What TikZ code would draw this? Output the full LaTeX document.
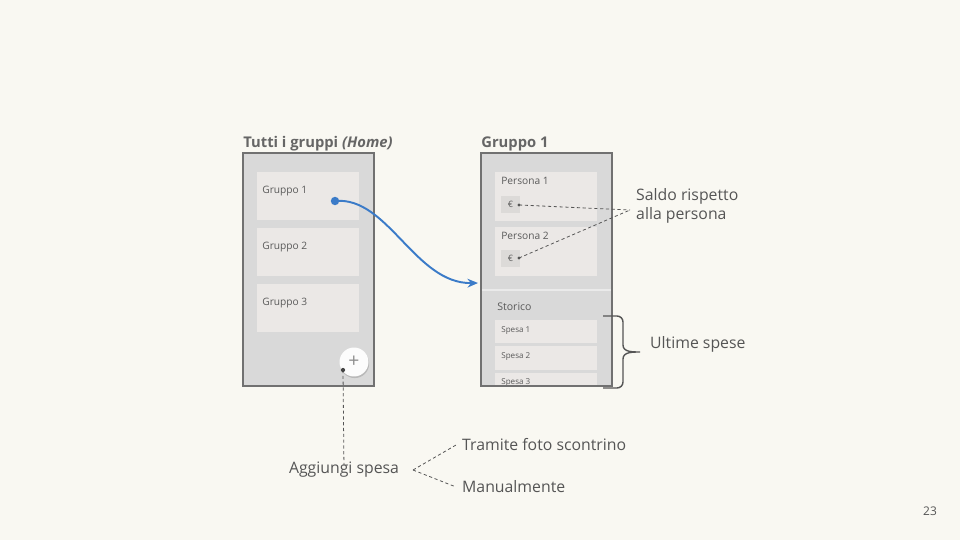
\documentclass[tikz,border=0pt]{standalone}
\usepackage{fontspec}
\setmainfont{Open Sans}
\usepackage{tikz}
\usetikzlibrary{arrows.meta, positioning, shadows, calc}
\definecolor{mockbg}{HTML}{F9F8F2}
\definecolor{mockphone}{HTML}{D9D9D9}
\definecolor{mockedge}{HTML}{717171}
\definecolor{mockcard}{HTML}{EBE8E6}
\definecolor{mockeuro}{HTML}{DCDAD8}
\definecolor{mocktext}{HTML}{5A5A5A}
\definecolor{mocktitle}{HTML}{666666}
\definecolor{mockgrey}{HTML}{555555}
\definecolor{mockblue}{HTML}{3B7BC8}

\tikzset{
  phone/.style={draw=mockedge, line width=0.9pt, fill=mockphone, inner sep=0pt,
    minimum width=2.62cm, minimum height=4.66cm},
  card/.style={fill=mockcard, inner sep=0pt, minimum width=2.04cm, minimum height=0.96cm},
  spesacard/.style={fill=mockcard, inner sep=0pt, minimum width=2.04cm, minimum height=0.48cm},
  cardtxt/.style={font=\fontsize{5.8}{6.5}\selectfont, text=mocktext, anchor=west, inner sep=0pt},
  title/.style={font=\fontsize{8.4}{10}\selectfont\bfseries, text=mocktitle, anchor=base west, inner sep=0pt},
  note/.style={font=\fontsize{9}{11}\selectfont, text=mockgrey, anchor=west, align=left},
  hint/.style={draw=mockgrey, line width=0.45pt, dash pattern=on 1.8pt off 1.5pt},
}

\begin{document}
\begin{tikzpicture}[x=0.02cm, y=-0.02cm]
  \useasboundingbox[fill=mockbg] (0,0) rectangle (960,540);

  % home screen
  \node[title] (hometitle) at (243,148) {Tutti i gruppi \textit{(Home)}};
  \node[phone] (home) at (308.5,269.5) {};
  \node[card] (g1) at (308,196) {};
  \node[card] (g2) at (308,252) {};
  \node[card] (g3) at (308,308) {};
  \node[cardtxt] (g1txt) at (262,191) {Gruppo 1};
  \node[cardtxt] (g2txt) at (262,247) {Gruppo 2};
  \node[cardtxt] (g3txt) at (262,303) {Gruppo 3};
  \node[circle, fill=white!93!mockphone, minimum size=0.58cm, inner sep=0pt,
    font=\fontsize{11}{11}\selectfont, text=mockedge!80,
    drop shadow={shadow xshift=0.4pt, shadow yshift=-0.9pt, opacity=0.35}] (addbtn) at (354,362) {+};
  \coordinate (adddot) at (343,370);
  \coordinate (g1dot) at (335,201);

  % group screen
  \node[title] (grouptitle) at (481,148) {Gruppo 1};
  \node[phone] (group) at (546.5,269.5) {};
  \begin{scope}
    \clip (482,154) rectangle (611,385);
    \draw[white!45!mockphone, line width=0.8pt] (482,290) -- (611,290);
    \node[card, minimum height=0.98cm] (p1) at (546,196.5) {};
    \node[card, minimum height=0.98cm] (p2) at (546,251.5) {};
    \node[cardtxt] (p1txt) at (501,181) {Persona 1};
    \node[cardtxt] (p2txt) at (501,236) {Persona 2};
    \node[fill=mockeuro, minimum width=0.38cm, minimum height=0.34cm, inner sep=0pt,
      font=\fontsize{5}{5}\selectfont, text=mocktext] (e1) at (510.5,204.5) {€\hspace{6pt}};
    \node[fill=mockeuro, minimum width=0.38cm, minimum height=0.34cm, inner sep=0pt,
      font=\fontsize{5}{5}\selectfont, text=mocktext] (e2) at (510.5,258.5) {€\hspace{6pt}};
    \node[cardtxt, font=\fontsize{6}{7}\selectfont] (storico) at (497,307) {Storico};
    \node[spesacard] (s1) at (546,331.5) {};
    \node[spesacard] (s2) at (546,358) {};
    \node[spesacard] (s3) at (546,384.5) {};
    \node[cardtxt, font=\fontsize{4.6}{5}\selectfont] (s1txt) at (501,331) {Spesa 1};
    \node[cardtxt, font=\fontsize{4.6}{5}\selectfont] (s2txt) at (501,357) {Spesa 2};
    \node[cardtxt, font=\fontsize{4.6}{5}\selectfont] (s3txt) at (501,383) {Spesa 3};
  \end{scope}
  \node[phone, fill=none] (groupedge) at (group.center) {};
  \coordinate (e1dot) at (519,205);
  \coordinate (e2dot) at (519,258);

  % link between screens
  \coordinate (arrowend) at (478,283);
  \draw[mockblue, line width=1.1pt, -{Stealth[length=6pt, width=5pt]}]
    (g1dot) .. controls (388,196) and (415,284) .. (arrowend);
  \fill[mockblue] (g1dot) circle (2.4pt);

  % notes
  \node[note] (saldo) at (630,206) {Saldo rispetto\\alla persona};
  \coordinate (saldotip) at (630,210);
  \draw[hint] (e1dot) -- (saldotip);
  \draw[hint] (e2dot) -- (saldotip);
  \fill[mockgrey] (e1dot) circle (0.9pt);
  \fill[mockgrey] (e2dot) circle (0.9pt);

  \draw[mockgrey, line width=0.8pt] (603,316) -- (617,316) to[out=0,in=90] (623,322)
    -- (623,345) to[out=-90,in=180] (640,352) to[out=180,in=90] (623,359)
    -- (623,382) to[out=-90,in=0] (617,388) -- (603,388);
  \node[note] (ultime) at (644,344) {Ultime spese};

  \node[note, anchor=center] (aggiungi) at (344,470) {Aggiungi spesa};
  \draw[hint] (adddot) -- ([yshift=-8pt]aggiungi.north);
  \fill[mockgrey!80!black] (adddot) circle (1.2pt);
  \coordinate (fork) at (413,470);
  \node[note] (tramite) at (456,445) {Tramite foto scontrino};
  \node[note] (manual) at (456,487) {Manualmente};
  \draw[hint] (fork) -- (tramite.west);
  \draw[hint] (fork) -- (manual.west);

  \node[font=\fontsize{6.8}{8}\selectfont, text=mockgrey] (pagenum) at (930,511) {23};
\end{tikzpicture}
\end{document}
